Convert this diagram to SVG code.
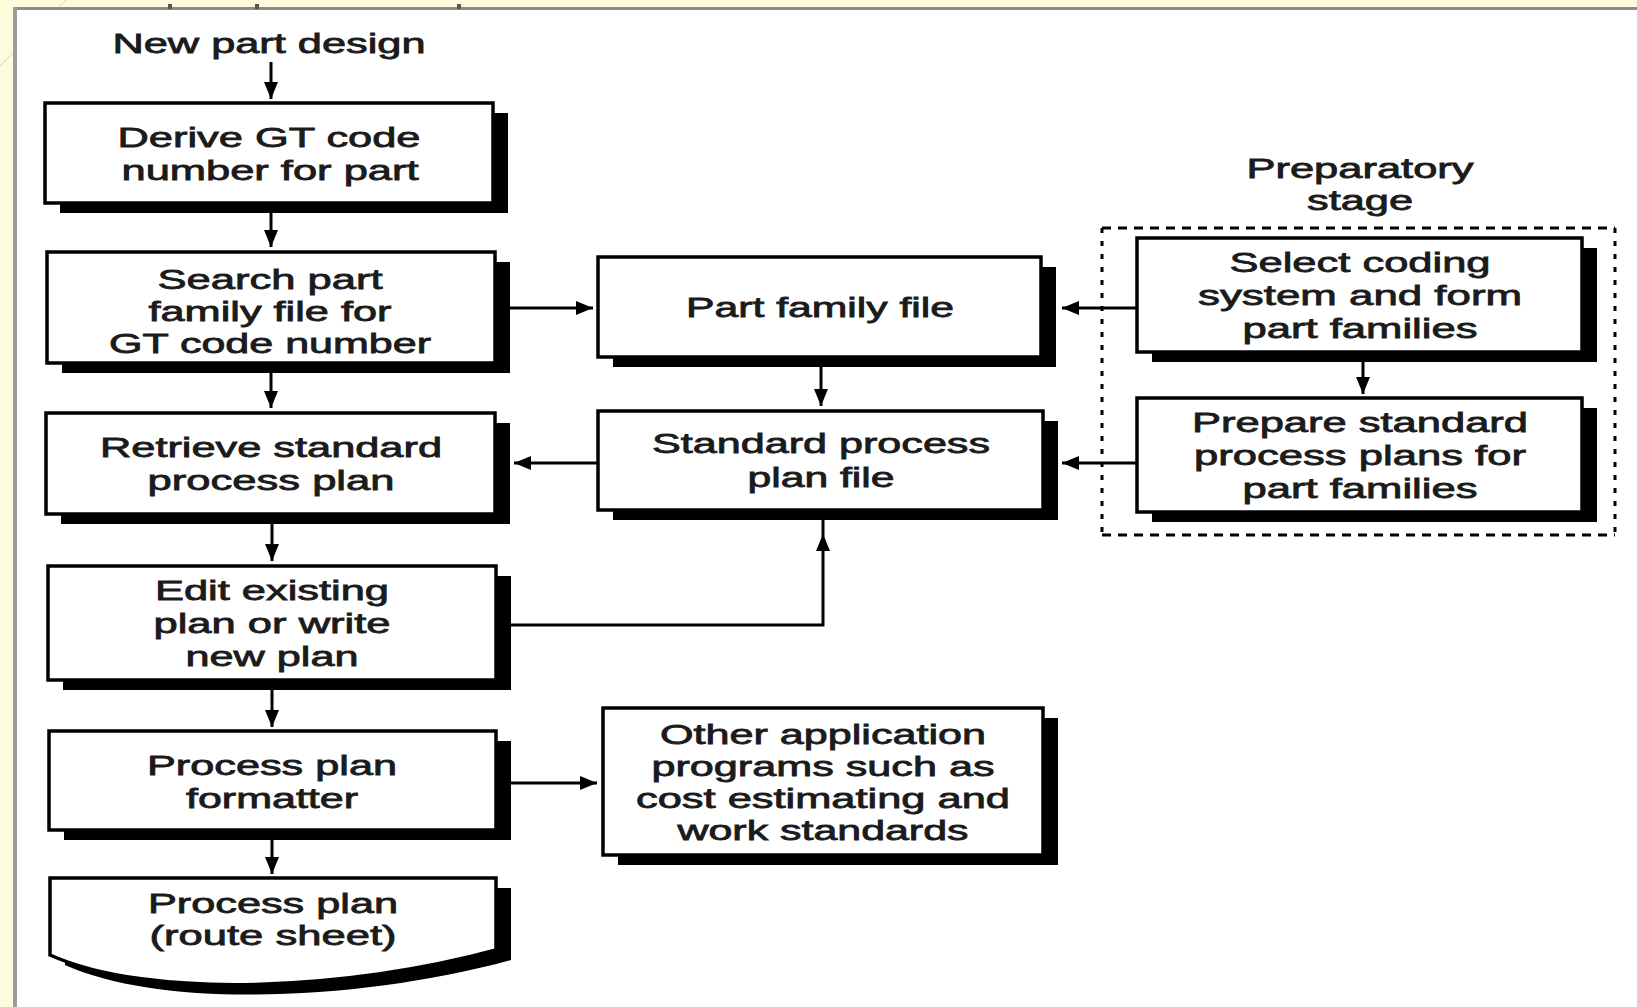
<svg xmlns="http://www.w3.org/2000/svg" width="1637" height="1007" viewBox="0 0 1637 1007">
  <defs>
    <style>
      .lbl { font-family: "Liberation Sans", Arial, Helvetica, sans-serif; font-size: 28px; fill: #1b1b1b; stroke: #1b1b1b; stroke-width: 0.8; text-anchor: middle; }
      .box { fill: #fff; stroke: #000; stroke-width: 3.5; }
      .shadow { fill: #000; }
      .wire { fill: none; stroke: #000; stroke-width: 3; }
      .dash-h { stroke: #000; stroke-width: 3; stroke-dasharray: 9 7; }
      .dash-v { stroke: #000; stroke-width: 3; stroke-dasharray: 5 8; }
    </style>
    <marker id="arrow" markerUnits="userSpaceOnUse" markerWidth="18" markerHeight="16" refX="17" refY="7.5" orient="auto">
      <path d="M0 0.5 L17 7.5 L0 14.5 Z" fill="#000"/>
    </marker>
  </defs>

  <!-- page frame -->
  <rect width="1637" height="1007" fill="#fefbdc"/>
  <line x1="0" y1="66" x2="66" y2="0" stroke="#d9d5b2" stroke-width="1"/>
  <rect x="13" y="7" width="1624" height="1000" fill="#fff"/>
  <line x1="13" y1="8.5" x2="1637" y2="8.5" stroke="#8c8c8c" stroke-width="3"/>
  <line x1="15" y1="7" x2="15" y2="1007" stroke="#9c9c9c" stroke-width="4"/>
  <rect x="168" y="4" width="4" height="5" fill="#555"/>
  <rect x="255" y="4" width="4" height="5" fill="#555"/>
  <rect x="457" y="4" width="4" height="5" fill="#555"/>

  <!-- nodes -->
  <g id="start">
    <text class="lbl" x="269" y="53" textLength="313" lengthAdjust="spacingAndGlyphs">New part design</text>
  </g>

  <g id="derive-gt-code">
    <rect class="shadow" x="60" y="113" width="448" height="100"/>
    <rect class="box" x="45" y="103" width="448" height="100"/>
    <text class="lbl" x="269" y="147" textLength="303" lengthAdjust="spacingAndGlyphs">Derive GT code</text>
    <text class="lbl" x="270" y="180" textLength="297" lengthAdjust="spacingAndGlyphs">number for part</text>
  </g>

  <g id="search-family-file">
    <rect class="shadow" x="62" y="262" width="448" height="111"/>
    <rect class="box" x="47" y="252" width="448" height="111"/>
    <text class="lbl" x="270" y="289" textLength="225" lengthAdjust="spacingAndGlyphs">Search part</text>
    <text class="lbl" x="270" y="321" textLength="243" lengthAdjust="spacingAndGlyphs">family file for</text>
    <text class="lbl" x="270" y="353" textLength="322" lengthAdjust="spacingAndGlyphs">GT code number</text>
  </g>

  <g id="retrieve-plan">
    <rect class="shadow" x="61" y="423" width="449" height="101"/>
    <rect class="box" x="46" y="413" width="449" height="101"/>
    <text class="lbl" x="271" y="457" textLength="342" lengthAdjust="spacingAndGlyphs">Retrieve standard</text>
    <text class="lbl" x="271" y="490" textLength="247" lengthAdjust="spacingAndGlyphs">process plan</text>
  </g>

  <g id="edit-plan">
    <rect class="shadow" x="63" y="576" width="448" height="114"/>
    <rect class="box" x="48" y="566" width="448" height="114"/>
    <text class="lbl" x="272" y="600" textLength="234" lengthAdjust="spacingAndGlyphs">Edit existing</text>
    <text class="lbl" x="272" y="633" textLength="237" lengthAdjust="spacingAndGlyphs">plan or write</text>
    <text class="lbl" x="272" y="666" textLength="173" lengthAdjust="spacingAndGlyphs">new plan</text>
  </g>

  <g id="formatter">
    <rect class="shadow" x="64" y="741" width="447" height="99"/>
    <rect class="box" x="49" y="731" width="447" height="99"/>
    <text class="lbl" x="272" y="775" textLength="250" lengthAdjust="spacingAndGlyphs">Process plan</text>
    <text class="lbl" x="272" y="808" textLength="172" lengthAdjust="spacingAndGlyphs">formatter</text>
  </g>

  <g id="route-sheet">
    <path class="shadow" transform="translate(15 10)" d="M50 878 H496 V950 C350 990 150 1000 50 955 Z"/>
    <path class="box" d="M50 878 H496 V950 C350 990 150 1000 50 955 Z"/>
    <text class="lbl" x="273" y="913" textLength="250" lengthAdjust="spacingAndGlyphs">Process plan</text>
    <text class="lbl" x="273" y="945" textLength="247" lengthAdjust="spacingAndGlyphs">(route sheet)</text>
  </g>

  <g id="part-family-file">
    <rect class="shadow" x="613" y="267" width="443" height="100"/>
    <rect class="box" x="598" y="257" width="443" height="100"/>
    <text class="lbl" x="820" y="317" textLength="268" lengthAdjust="spacingAndGlyphs">Part family file</text>
  </g>

  <g id="std-plan-file">
    <rect class="shadow" x="613" y="421" width="445" height="99"/>
    <rect class="box" x="598" y="411" width="445" height="99"/>
    <text class="lbl" x="821" y="453" textLength="338" lengthAdjust="spacingAndGlyphs">Standard process</text>
    <text class="lbl" x="821" y="487" textLength="147" lengthAdjust="spacingAndGlyphs">plan file</text>
  </g>

  <g id="other-apps">
    <rect class="shadow" x="618" y="718" width="440" height="147"/>
    <rect class="box" x="603" y="708" width="440" height="147"/>
    <text class="lbl" x="823" y="744" textLength="326" lengthAdjust="spacingAndGlyphs">Other application</text>
    <text class="lbl" x="823" y="776" textLength="343" lengthAdjust="spacingAndGlyphs">programs such as</text>
    <text class="lbl" x="823" y="808" textLength="374" lengthAdjust="spacingAndGlyphs">cost estimating and</text>
    <text class="lbl" x="823" y="840" textLength="291" lengthAdjust="spacingAndGlyphs">work standards</text>
  </g>

  <g id="prep-stage">
    <text class="lbl" x="1360" y="178" textLength="227" lengthAdjust="spacingAndGlyphs">Preparatory</text>
    <text class="lbl" x="1360" y="210" textLength="106" lengthAdjust="spacingAndGlyphs">stage</text>
    <line class="dash-h" x1="1102" y1="228" x2="1615" y2="228"/>
    <line class="dash-h" x1="1102" y1="535" x2="1615" y2="535"/>
    <line class="dash-v" x1="1102" y1="228" x2="1102" y2="535"/>
    <line class="dash-v" x1="1615" y1="228" x2="1615" y2="535"/>
  </g>

  <g id="select-coding">
    <rect class="shadow" x="1152" y="248" width="445" height="114"/>
    <rect class="box" x="1137" y="238" width="445" height="114"/>
    <text class="lbl" x="1360" y="272" textLength="261" lengthAdjust="spacingAndGlyphs">Select coding</text>
    <text class="lbl" x="1360" y="305" textLength="324" lengthAdjust="spacingAndGlyphs">system and form</text>
    <text class="lbl" x="1360" y="338" textLength="235" lengthAdjust="spacingAndGlyphs">part families</text>
  </g>

  <g id="prepare-plans">
    <rect class="shadow" x="1152" y="408" width="445" height="114"/>
    <rect class="box" x="1137" y="398" width="445" height="114"/>
    <text class="lbl" x="1360" y="432" textLength="336" lengthAdjust="spacingAndGlyphs">Prepare standard</text>
    <text class="lbl" x="1360" y="465" textLength="332" lengthAdjust="spacingAndGlyphs">process plans for</text>
    <text class="lbl" x="1360" y="498" textLength="235" lengthAdjust="spacingAndGlyphs">part families</text>
  </g>

  <!-- connectors -->
  <g id="connectors">
    <path class="wire" d="M271 62 V99" marker-end="url(#arrow)"/>
    <path class="wire" d="M271 213 V247" marker-end="url(#arrow)"/>
    <path class="wire" d="M271 373 V408" marker-end="url(#arrow)"/>
    <path class="wire" d="M272 524 V561" marker-end="url(#arrow)"/>
    <path class="wire" d="M272 690 V727" marker-end="url(#arrow)"/>
    <path class="wire" d="M272 840 V874" marker-end="url(#arrow)"/>
    <path class="wire" d="M510 308 H593" marker-end="url(#arrow)"/>
    <path class="wire" d="M598 463 H514" marker-end="url(#arrow)"/>
    <path class="wire" d="M511 625 H823 V534" marker-end="url(#arrow)"/>
    <path class="wire" d="M823 534 V520"/>
    <path class="wire" d="M821 367 V406" marker-end="url(#arrow)"/>
    <path class="wire" d="M1137 308 H1062" marker-end="url(#arrow)"/>
    <path class="wire" d="M1137 463 H1062" marker-end="url(#arrow)"/>
    <path class="wire" d="M1363 362 V394" marker-end="url(#arrow)"/>
    <path class="wire" d="M511 783 H597" marker-end="url(#arrow)"/>
  </g>
</svg>
